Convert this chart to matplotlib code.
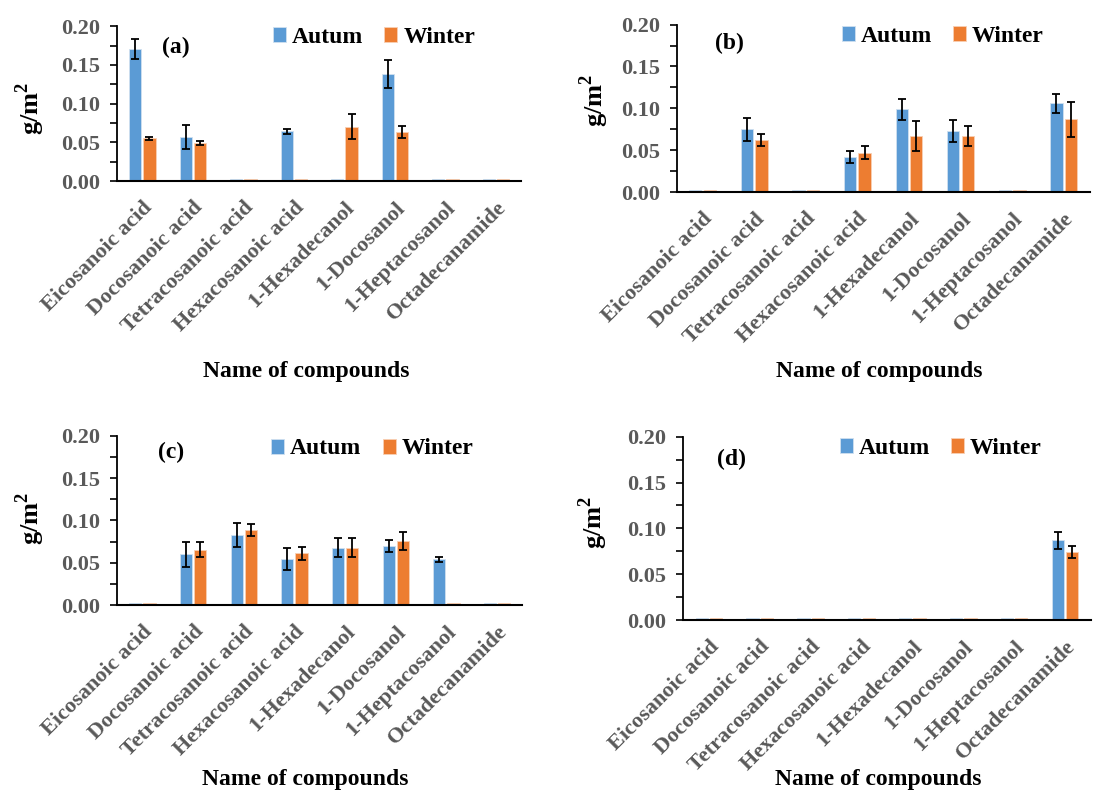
import numpy as np
import matplotlib
matplotlib.use('Agg')
import matplotlib.pyplot as plt
from matplotlib.ticker import MultipleLocator

plt.rcParams['font.family'] = ['Liberation Serif', 'DejaVu Serif']
plt.rcParams['font.weight'] = 'bold'
plt.rcParams['mathtext.fontset'] = 'custom'
plt.rcParams['mathtext.bf'] = 'Liberation Serif:bold'

compounds = ['Eicosanoic acid', 'Docosanoic acid', 'Tetracosanoic acid',
             'Hexacosanoic acid', '1-Hexadecanol', '1-Docosanol',
             '1-Heptacosanol', 'Octadecanamide']

# (a)
a_autum = [0.171, 0.057, 0.0025, 0.064, 0.0025, 0.138, 0.0025, 0.0025]
a_autum_err = [0.013, 0.016, 0, 0.003, 0, 0.018, 0, 0]
a_winter = [0.055, 0.049, 0.0025, 0.0025, 0.070, 0.063, 0.0025, 0.0025]
a_winter_err = [0.002, 0.003, 0, 0, 0.016, 0.008, 0, 0]

# (b)
b_autum = [0.0025, 0.075, 0.0025, 0.042, 0.099, 0.073, 0.0025, 0.106]
b_autum_err = [0, 0.014, 0, 0.007, 0.0125, 0.013, 0, 0.011]
b_winter = [0.0025, 0.062, 0.0025, 0.047, 0.067, 0.067, 0.0025, 0.087]
b_winter_err = [0, 0.007, 0, 0.008, 0.018, 0.012, 0, 0.021]

# (c)
c_autum = [0.0025, 0.060, 0.083, 0.055, 0.068, 0.070, 0.054, 0.0025]
c_autum_err = [0, 0.015, 0.014, 0.013, 0.011, 0.007, 0.003, 0]
c_winter = [0.0025, 0.0655, 0.089, 0.061, 0.068, 0.0757, 0.0025, 0.0025]
c_winter_err = [0, 0.009, 0.007, 0.008, 0.011, 0.011, 0, 0]

# (d)
d_autum = [0.0025, 0.0025, 0.0025, 0.0025, 0.0025, 0.0025, 0.0025, 0.087]
d_autum_err = [0, 0, 0, 0, 0, 0, 0, 0.0095]
d_winter = [0.0025, 0.0025, 0.0025, 0.0025, 0.0025, 0.0025, 0.0025, 0.074]
d_winter_err = [0, 0, 0, 0, 0, 0, 0, 0.0065]

blue = '#5B9BD5'
orange = '#ED7D31'
grey = '#595959'

fig = plt.figure(figsize=(10.95, 7.94), dpi=100)

# tag, axes rect, data, tag pos, ylabel pos, xlabel pos, legend anchor
panels = [
    ('(a)', [0.107, 0.772, 0.369, 0.195], a_autum, a_autum_err, a_winter, a_winter_err,
     (0.146, 0.865), (-0.215, 0.47), (0.468, -1.23), (0.886, 0.93)),
    ('(b)', [0.618, 0.758, 0.377, 0.211], b_autum, b_autum_err, b_winter, b_winter_err,
     (0.128, 0.89), (-0.20, 0.55), (0.49, -1.07), (0.889, 0.928)),
    ('(c)', [0.107, 0.238, 0.370, 0.213], c_autum, c_autum_err, c_winter, c_winter_err,
     (0.133, 0.90), (-0.215, 0.51), (0.464, -1.03), (0.879, 0.923)),
    ('(d)', [0.624, 0.219, 0.372, 0.231], d_autum, d_autum_err, d_winter, d_winter_err,
     (0.118, 0.874), (-0.22, 0.535), (0.478, -0.87), (0.88, 0.934)),
]

x = np.arange(len(compounds))
w = 0.24
for tag, rect, au, aue, wi, wie, tagpos, ylpos, xlpos, legpos in panels:
    ax = fig.add_axes(rect)
    errkw = dict(ecolor='black', elinewidth=1.3, capsize=3, capthick=1.3)
    au_err = [e if e > 0 else np.nan for e in aue]
    wi_err = [e if e > 0 else np.nan for e in wie]
    ax.bar(x - 0.14, au, w, color=blue, edgecolor='#cfe0f0', linewidth=0.6,
           yerr=au_err, error_kw=errkw, label='Autum')
    ax.bar(x + 0.14, wi, w, color=orange, edgecolor='#f8cfb4', linewidth=0.6,
           yerr=wi_err, error_kw=errkw, label='Winter')
    ax.set_xlim(-0.5, len(compounds) - 0.5)
    ax.set_ylim(0, 0.2)
    ax.yaxis.set_minor_locator(MultipleLocator(0.025))
    ax.set_yticks([0, 0.05, 0.10, 0.15, 0.20])
    ax.set_yticklabels(['0.00', '0.05', '0.10', '0.15', '0.20'])
    ax.tick_params(axis='y', which='both', length=5, width=1.2, colors='black',
                   labelcolor=grey, labelsize=16, direction='out', pad=7)
    ax.set_xticks(x)
    ax.set_xticklabels(compounds, rotation=45, ha='right', rotation_mode='anchor',
                       fontsize=16, color=grey)
    ax.tick_params(axis='x', length=0, pad=12)
    for s in ['top', 'right']:
        ax.spines[s].set_visible(False)
    ax.spines['left'].set_linewidth(1.3)
    ax.spines['bottom'].set_linewidth(1.5)
    ax.set_ylabel('g/m$^\\mathbf{2}$', fontsize=19, fontweight='bold')
    ax.yaxis.label.set_va('center')
    ax.yaxis.set_label_coords(*ylpos)
    ax.set_xlabel('Name of compounds', fontsize=17, fontweight='bold')
    ax.xaxis.label.set_va('center')
    ax.xaxis.set_label_coords(*xlpos)
    ax.text(tagpos[0], tagpos[1], tag, transform=ax.transAxes, fontsize=17,
            fontweight='bold', ha='center', va='center')
    ax.legend(loc='center right', bbox_to_anchor=legpos, ncol=2, frameon=False,
              handlelength=0.55, handleheight=0.6, handletextpad=0.25,
              columnspacing=0.9, borderpad=0, borderaxespad=0,
              prop={'weight': 'bold', 'size': 17})

fig.savefig('out.png', dpi=100)
